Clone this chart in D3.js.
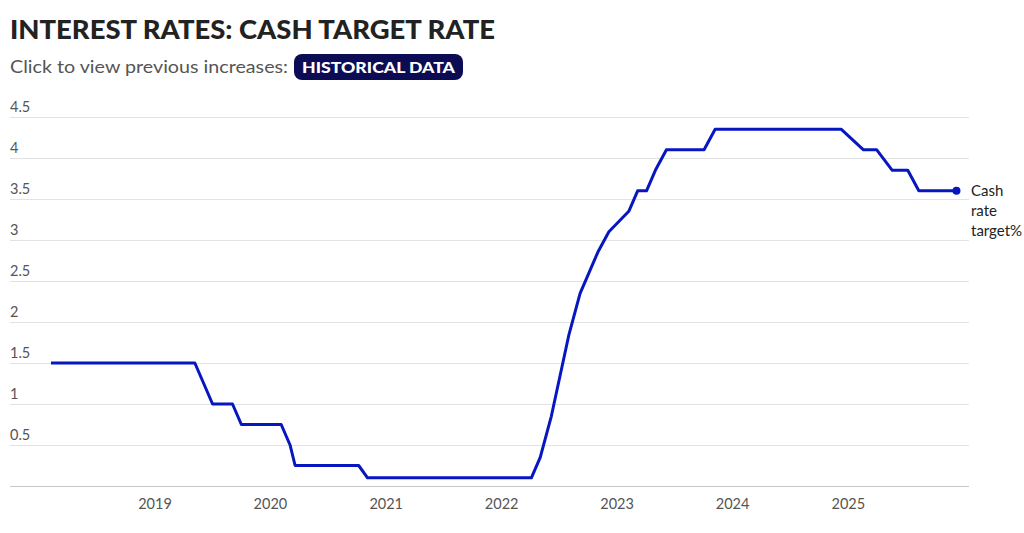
<!DOCTYPE html>
<html>
<head>
<meta charset="utf-8">
<script src="https://cdn.jsdelivr.net/npm/d3@7"></script>
<style>
  body { margin: 0; background: #fff; }
  svg { display: block; font-family: Lato, "Open Sans", sans-serif; }
</style>
</head>
<body>
<div id="chart"></div>
<script>
var TITLE = "INTEREST RATES: CASH TARGET RATE"
var SUBTITLE = "Click to view previous increases:"
var BUTTON_TEXT = "HISTORICAL DATA"
var SERIES_LABEL = ["Cash", "rate", "target%"]

// RBA board meeting dates and the cash rate target after each meeting
var meetingDates = [
  "2018-02-06","2018-03-06","2018-04-03","2018-05-01","2018-06-05","2018-07-03",
  "2018-08-07","2018-09-04","2018-10-02","2018-11-06","2018-12-04",
  "2019-02-05","2019-03-05","2019-04-02","2019-05-07","2019-06-04","2019-07-02",
  "2019-08-06","2019-09-03","2019-10-01","2019-11-05","2019-12-03",
  "2020-02-04","2020-03-03","2020-03-19","2020-04-07","2020-05-05","2020-06-02",
  "2020-07-07","2020-08-04","2020-09-01","2020-10-06","2020-11-03","2020-12-01",
  "2021-02-02","2021-03-02","2021-04-06","2021-05-04","2021-06-01","2021-07-06",
  "2021-08-03","2021-09-07","2021-10-05","2021-11-02","2021-12-07",
  "2022-02-01","2022-03-01","2022-04-05","2022-05-03","2022-06-07","2022-07-05",
  "2022-08-02","2022-09-06","2022-10-04","2022-11-01","2022-12-06",
  "2023-02-07","2023-03-07","2023-04-04","2023-05-02","2023-06-06","2023-07-04",
  "2023-08-01","2023-09-05","2023-10-03","2023-11-07","2023-12-05",
  "2024-02-06","2024-03-19","2024-05-07","2024-06-18","2024-08-06","2024-09-24",
  "2024-11-05","2024-12-10",
  "2025-02-18","2025-04-01","2025-05-20","2025-07-08","2025-08-12","2025-09-30",
  "2025-11-04","2025-12-09"
]
var cashRates = [
  1.50,1.50,1.50,1.50,1.50,1.50,
  1.50,1.50,1.50,1.50,1.50,
  1.50,1.50,1.50,1.50,1.25,1.00,
  1.00,1.00,0.75,0.75,0.75,
  0.75,0.50,0.25,0.25,0.25,0.25,
  0.25,0.25,0.25,0.25,0.10,0.10,
  0.10,0.10,0.10,0.10,0.10,0.10,
  0.10,0.10,0.10,0.10,0.10,
  0.10,0.10,0.10,0.35,0.85,1.35,
  1.85,2.35,2.60,2.85,3.10,
  3.35,3.60,3.60,3.85,4.10,4.10,
  4.10,4.10,4.10,4.35,4.35,
  4.35,4.35,4.35,4.35,4.35,4.35,
  4.35,4.35,
  4.10,4.10,3.85,3.85,3.60,3.60,
  3.60,3.60
]
var yTicks = [0, 0.5, 1, 1.5, 2, 2.5, 3, 3.5, 4, 4.5]
var xTickYears = [2019, 2020, 2021, 2022, 2023, 2024, 2025]

var width = 1024, height = 533
var plotLeft = 10, plotRight = 969
var parseDate = d3.timeParse("%Y-%m-%d")

var data = meetingDates.map(function(d, i) {
  return {date: parseDate(d), rate: cashRates[i]}
})

var x = d3.scaleTime()
  .domain([new Date(2019, 0, 1), new Date(2025, 0, 1)])
  .range([155, 848.3])

var y = d3.scaleLinear()
  .domain([0, 4.5])
  .range([486, 117])

var svg = d3.select("#chart").append("svg")
  .attr("width", width)
  .attr("height", height)

// header
svg.append("text")
  .attr("x", 10)
  .attr("y", 39)
  .attr("font-size", "26px")
  .attr("font-weight", 900)
  .attr("fill", "#222")
  .attr("textLength", 485)
  .attr("lengthAdjust", "spacingAndGlyphs")
  .text(TITLE)

svg.append("text")
  .attr("x", 10)
  .attr("y", 73)
  .attr("font-size", "18px")
  .attr("fill", "#555")
  .attr("textLength", 278)
  .attr("lengthAdjust", "spacingAndGlyphs")
  .text(SUBTITLE)

svg.append("rect")
  .attr("x", 294)
  .attr("y", 54)
  .attr("width", 169)
  .attr("height", 26)
  .attr("rx", 8)
  .attr("fill", "#0c0c55")

svg.append("text")
  .attr("x", 378.5)
  .attr("y", 72.5)
  .attr("text-anchor", "middle")
  .attr("font-size", "15.5px")
  .attr("font-weight", 900)
  .attr("fill", "#fff")
  .attr("textLength", 153)
  .attr("lengthAdjust", "spacingAndGlyphs")
  .text(BUTTON_TEXT)

// gridlines + y labels
var grid = svg.append("g")
grid.selectAll("line")
  .data(yTicks)
  .enter().append("line")
  .attr("x1", plotLeft)
  .attr("x2", plotRight)
  .attr("y1", function(d) { return Math.round(y(d)) + 0.5 })
  .attr("y2", function(d) { return Math.round(y(d)) + 0.5 })
  .attr("stroke", function(d) { return d == 0 ? "#c8c8c8" : "#e3e3e3" })
  .attr("stroke-width", 1)

grid.selectAll("text")
  .data(yTicks.filter(function(d) { return d > 0 }))
  .enter().append("text")
  .attr("x", plotLeft)
  .attr("y", function(d) { return y(d) - 5 })
  .attr("font-size", "14.5px")
  .attr("fill", "#555")
  .text(function(d) { return d })

// x axis labels
svg.append("g").selectAll("text")
  .data(xTickYears)
  .enter().append("text")
  .attr("x", function(d) { return x(new Date(d, 0, 1)) })
  .attr("y", 509)
  .attr("text-anchor", "middle")
  .attr("font-size", "14.5px")
  .attr("fill", "#555")
  .text(function(d) { return d })

// the line
var line = d3.line()
  .x(function(d) { return x(d.date) })
  .y(function(d) { return y(d.rate) })

svg.append("path")
  .datum(data)
  .attr("fill", "none")
  .attr("stroke", "#0717c0")
  .attr("stroke-width", 3)
  .attr("stroke-linejoin", "round")
  .attr("d", line)

var last = data[data.length - 1]
svg.append("circle")
  .attr("cx", x(last.date))
  .attr("cy", y(last.rate))
  .attr("r", 4)
  .attr("fill", "#0717c0")

svg.append("g").selectAll("text")
  .data(SERIES_LABEL)
  .enter().append("text")
  .attr("x", 971)
  .attr("y", function(d, i) { return y(last.rate) + 5 + i * 20 })
  .attr("font-size", "15px")
  .attr("fill", "#222")
  .text(function(d) { return d })
</script>
</body>
</html>
